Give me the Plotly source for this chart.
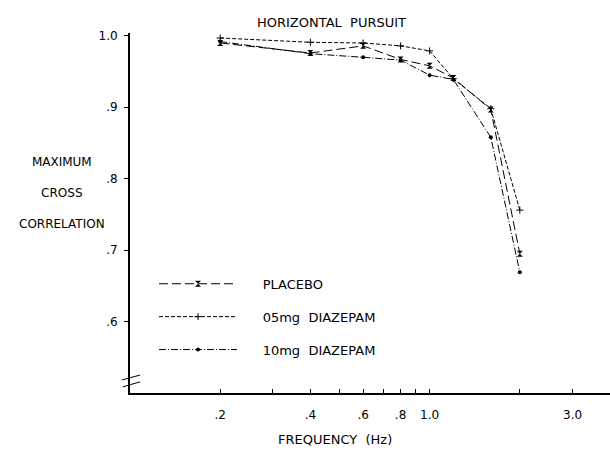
import plotly.graph_objects as go

freq = [0.2, 0.4, 0.6, 0.8, 1.0, 1.2, 1.6, 2.0]
placebo = [0.990, 0.976, 0.986, 0.967, 0.958, 0.941, 0.897, 0.695]
mg05 = [0.997, 0.991, 0.990, 0.986, 0.979, 0.940, 0.898, 0.756]
mg10 = [0.992, 0.975, 0.970, 0.966, 0.945, 0.939, 0.858, 0.669]

x_tickvals = [0.2, 0.3, 0.4, 0.5, 0.6, 0.7, 0.8, 0.9, 1.0, 2.0, 3.0]
x_ticktext = [".2", "", ".4", "", ".6", "", ".8", "", "1.0", "", "3.0"]
y_tickvals = [0.6, 0.7, 0.8, 0.9, 1.0]
y_ticktext = [".6", ".7", ".8", ".9", "1.0"]

PAD = "\u00a0" * 5
FONT = "DejaVu Sans"
fig = go.Figure()
fig.add_trace(go.Scatter(x=freq, y=placebo, name=PAD + "PLACEBO", mode="lines+markers",
                         line=dict(color="black", width=1, dash="9px,4px"),
                         marker=dict(symbol="hourglass", size=6, color="black"),
                         legendgroup="a"))
fig.add_trace(go.Scatter(x=freq, y=mg05, name=PAD + "05mg  DIAZEPAM", mode="lines+markers",
                         line=dict(color="black", width=1, dash="4px,2px"),
                         marker=dict(symbol="cross-thin", size=5, color="black",
                                     line=dict(color="black", width=1)),
                         legendgroup="b"))
fig.add_trace(go.Scatter(x=freq, y=mg10, name=PAD + "10mg  DIAZEPAM", mode="lines+markers",
                         line=dict(color="black", width=1, dash="7px,2px,1px,2px"),
                         marker=dict(symbol="circle", size=4, color="black"),
                         legendgroup="c"))

fig.update_layout(
    width=610, height=464,
    margin=dict(l=130, r=0, t=33, b=71),
    paper_bgcolor="white", plot_bgcolor="white",
    font=dict(family=FONT, size=12, color="black"),
    showlegend=True,
    legend=dict(x=0.05, y=0.345, xanchor="left", yanchor="top",
                bgcolor="rgba(0,0,0,0)", font=dict(size=13, family=FONT),
                tracegroupgap=13, traceorder="grouped", itemwidth=78),
    xaxis=dict(type="log", range=[-1, 0.602], tickvals=x_tickvals, ticktext=x_ticktext,
               ticks="inside", ticklen=4, tickcolor="black", showgrid=False, zeroline=False,
               showline=True, linecolor="black", linewidth=1.5,
               ticklabelstandoff=10, tickfont=dict(size=12)),
    yaxis=dict(range=[0.5, 1.004], tickvals=y_tickvals, ticktext=y_ticktext,
               ticks="outside", ticklen=4, tickcolor="black", showgrid=False, zeroline=False,
               showline=True, linecolor="black", linewidth=2,
               ticklabelstandoff=4, tickfont=dict(size=12)),
    annotations=[
        dict(text="HORIZONTAL  PURSUIT", xref="paper", yref="paper", x=0.42, y=1.0,
             xanchor="center", yshift=20, showarrow=False, font=dict(size=13)),
        dict(text="FREQUENCY  (Hz)", xref="paper", yref="paper", x=0.427, y=0,
             xanchor="center", yshift=-56, showarrow=False, font=dict(size=13)),
        dict(text="MAXIMUM<br><br>CROSS<br><br>CORRELATION", xref="paper", yref="paper",
             x=-0.142, y=0.555, xanchor="center", showarrow=False, align="center",
             font=dict(size=12)),
    ],
    shapes=[
        dict(type="line", xref="paper", yref="paper", x0=-0.017, y0=0.036, x1=0.021, y1=0.05,
             line=dict(color="black", width=1)),
        dict(type="line", xref="paper", yref="paper", x0=-0.015, y0=0.017, x1=0.021, y1=0.031,
             line=dict(color="black", width=1)),
    ],
)

fig.write_html("out.html")
